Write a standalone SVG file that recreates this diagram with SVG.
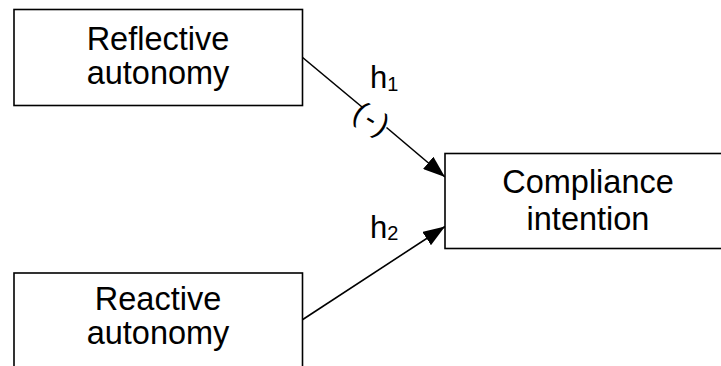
<svg xmlns="http://www.w3.org/2000/svg" width="721" height="366" viewBox="0 0 721 366">
<style>
.box{fill:#fff;stroke:#000;stroke-width:1.6}
.t{font-family:"Liberation Sans",Arial,sans-serif;font-size:32.5px;fill:#000;text-anchor:middle}
.h{font-family:"Liberation Sans",Arial,sans-serif;font-size:31px;fill:#000}
.sub{font-size:20px}
.c{stroke:#000;stroke-width:1.6;fill:none}
</style>
<defs>
<marker id="arr" markerUnits="userSpaceOnUse" markerWidth="22" markerHeight="16" refX="22" refY="8" orient="auto">
<path d="M0,0 L22,8 L0,16 z" fill="#000"/>
</marker>
</defs>
<rect width="721" height="366" fill="#fff"/>
<g id="connectors">
<line class="c" x1="302" y1="57" x2="362" y2="107"/>
<line class="c" x1="386.5" y1="127.5" x2="445" y2="177" marker-end="url(#arr)"/>
<line class="c" x1="302" y1="320" x2="445" y2="226.5" marker-end="url(#arr)"/>
<text class="h" x="0" y="0" transform="translate(373,119) rotate(32)" text-anchor="middle" dominant-baseline="central" style="font-size:30px;letter-spacing:3px">(-)</text>
<text class="h" x="370" y="88">h<tspan class="sub" dy="3">1</tspan></text>
<text class="h" x="370" y="238">h<tspan class="sub" dy="2">2</tspan></text>
</g>
<g id="reflective">
<rect class="box" x="14" y="9.5" width="288.5" height="96"/>
<text class="t" x="158" y="50">Reflective</text>
<text class="t" x="158" y="84">autonomy</text>
</g>
<g id="reactive">
<rect class="box" x="14" y="273" width="288.5" height="110"/>
<text class="t" x="158" y="310">Reactive</text>
<text class="t" x="158" y="344">autonomy</text>
</g>
<g id="compliance">
<rect class="box" x="445" y="153.5" width="290" height="95"/>
<text class="t" x="588" y="193">Compliance</text>
<text class="t" x="588" y="230">intention</text>
</g>
</svg>
